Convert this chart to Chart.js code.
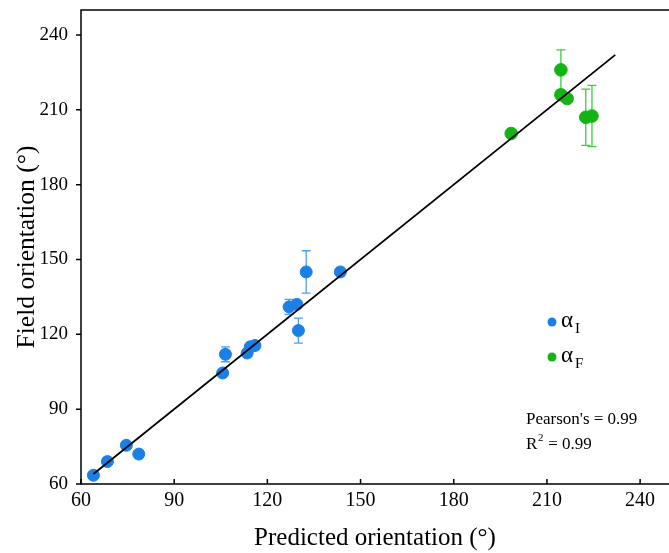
<!DOCTYPE html>
<html>
<head>
<meta charset="utf-8">
<script src="https://cdn.jsdelivr.net/npm/chart.js@4.4.0/dist/chart.umd.min.js"></script>
<style>
  html, body { margin: 0; padding: 0; background: #fff; }
  #wrap { width: 669px; height: 553px; }
</style>
</head>
<body>
<div id="wrap"><canvas id="chart" width="669" height="553"></canvas></div>
<script>
// alpha_I points (blue)
const initX = [64, 68.5, 74.6, 78.6, 105.6, 106.5, 113.5, 114.5, 116, 127, 129.5, 130, 132.5, 143.5];
const initY = [63.5, 69, 75.5, 72, 104.5, 112, 112.5, 115, 115.5, 131, 132, 121.5, 145, 145];
const initErr = [0, 0, 0, 0, 0, 3, 0, 0, 0, 3, 0, 5, 8.5, 0];

// alpha_F points (green)
const finalX = [198.5, 214.5, 214.5, 216.5, 222.5, 224.5];
const finalY = [200.5, 226, 216, 214.5, 207, 207.5];
const finalErr = [0, 8, 0, 0, 11.3, 12.3];

// 1:1 fit line
const fitX = [64, 232];
const fitY = [64, 232];

const axisTicks = [60, 90, 120, 150, 180, 210, 240];

const blue = '#1a80e5';
const green = '#14b414';
const serif = "'Liberation Serif', 'DejaVu Serif', serif";

function toPoints(xs, ys) {
  return xs.map((x, i) => ({ x: x, y: ys[i] }));
}

// error bars, frame, ticks, legend and stats text
const decor = {
  id: 'decor',
  beforeDatasetsDraw(chart) {
    const ctx = chart.ctx;
    const xs = chart.scales.x, ys = chart.scales.y;
    const bars = [
      { x: initX, y: initY, e: initErr, c: '#4aa0f0' },
      { x: finalX, y: finalY, e: finalErr, c: '#3ccc3c' }
    ];
    ctx.save();
    ctx.lineWidth = 1.3;
    bars.forEach(b => {
      ctx.strokeStyle = b.c;
      b.e.forEach((err, i) => {
        if (!err) return;
        const px = xs.getPixelForValue(b.x[i]);
        const top = ys.getPixelForValue(b.y[i] + err);
        const bot = ys.getPixelForValue(b.y[i] - err);
        ctx.beginPath();
        ctx.moveTo(px, top); ctx.lineTo(px, bot);
        ctx.moveTo(px - 4.5, top); ctx.lineTo(px + 4.5, top);
        ctx.moveTo(px - 4.5, bot); ctx.lineTo(px + 4.5, bot);
        ctx.stroke();
      });
    });
    ctx.restore();
  },
  afterDraw(chart) {
    const ctx = chart.ctx;
    const a = chart.chartArea;
    const xs = chart.scales.x, ys = chart.scales.y;
    ctx.save();
    ctx.strokeStyle = '#000';
    ctx.lineWidth = 1.5;
    ctx.beginPath();
    ctx.moveTo(a.right, a.top);
    ctx.lineTo(a.left, a.top);
    ctx.lineTo(a.left, a.bottom);
    ctx.lineTo(a.right, a.bottom);
    ctx.stroke();
    ctx.beginPath();
    axisTicks.forEach(t => {
      const px = xs.getPixelForValue(t);
      ctx.moveTo(px, a.bottom); ctx.lineTo(px, a.bottom - 5);
      const py = ys.getPixelForValue(t);
      ctx.moveTo(a.left, py); ctx.lineTo(a.left - 5, py);
    });
    ctx.stroke();

    // legend
    const items = [
      { c: blue, sub: 'I', y: 322 },
      { c: green, sub: 'F', y: 357 }
    ];
    items.forEach(it => {
      ctx.fillStyle = it.c;
      ctx.beginPath();
      ctx.arc(552, it.y, 4.5, 0, Math.PI * 2);
      ctx.fill();
      ctx.fillStyle = '#000';
      ctx.textBaseline = 'alphabetic';
      ctx.textAlign = 'left';
      ctx.font = '23px ' + serif;
      ctx.fillText('\u03b1', 561, it.y + 5);
      ctx.font = '15px ' + serif;
      ctx.fillText(it.sub, 575, it.y + 11);
    });

    // stats text
    ctx.fillStyle = '#000';
    ctx.font = '17px ' + serif;
    ctx.fillText("Pearson's = 0.99", 526, 424);
    ctx.fillText('R', 526, 449);
    ctx.font = '11px ' + serif;
    ctx.fillText('2', 538, 441);
    ctx.font = '17px ' + serif;
    ctx.fillText(' = 0.99', 544, 449);
    ctx.restore();
  }
};

new Chart(document.getElementById('chart'), {
  type: 'scatter',
  data: {
    datasets: [
      {
        type: 'line',
        label: 'fit',
        data: toPoints(fitX, fitY),
        borderColor: '#000',
        borderWidth: 1.8,
        pointRadius: 0,
        fill: false
      },
      {
        label: '\u03b1I',
        data: toPoints(initX, initY),
        backgroundColor: blue,
        borderColor: blue,
        pointRadius: 6,
        pointHoverRadius: 6
      },
      {
        label: '\u03b1F',
        data: toPoints(finalX, finalY),
        backgroundColor: green,
        borderColor: green,
        pointRadius: 6.3,
        pointHoverRadius: 6.3
      }
    ]
  },
  options: {
    responsive: false,
    animation: false,
    layout: { autoPadding: false, padding: { top: 10, right: 0, left: 12, bottom: 0 } },
    plugins: {
      legend: { display: false },
      tooltip: { enabled: false }
    },
    scales: {
      x: {
        type: 'linear',
        min: 60,
        max: 249.3,
        afterBuildTicks: s => { s.ticks = axisTicks.map(v => ({ value: v })); },
        grid: { display: false, drawTicks: false },
        border: { display: false },
        ticks: { color: '#000', font: { family: serif, size: 20 }, padding: 5, maxRotation: 0 },
        title: {
          display: true,
          text: 'Predicted orientation (\u00b0)',
          color: '#000',
          font: { family: serif, size: 25 },
          padding: { top: 0, bottom: 0 }
        },
        afterFit: s => { s.height = 69; s.paddingLeft = 0; s.paddingRight = 0; }
      },
      y: {
        type: 'linear',
        min: 60,
        max: 250,
        afterBuildTicks: s => { s.ticks = axisTicks.map(v => ({ value: v })); },
        grid: { display: false, drawTicks: false },
        border: { display: false },
        ticks: { color: '#000', font: { family: serif, size: 19 }, padding: 13 },
        title: {
          display: true,
          text: 'Field orientation (\u00b0)',
          color: '#000',
          font: { family: serif, size: 25.5 },
          padding: { top: 0, bottom: 4 }
        },
        afterFit: s => { s.width = 69; s.paddingTop = 0; s.paddingBottom = 0; }
      }
    }
  },
  plugins: [decor]
});
</script>
</body>
</html>
